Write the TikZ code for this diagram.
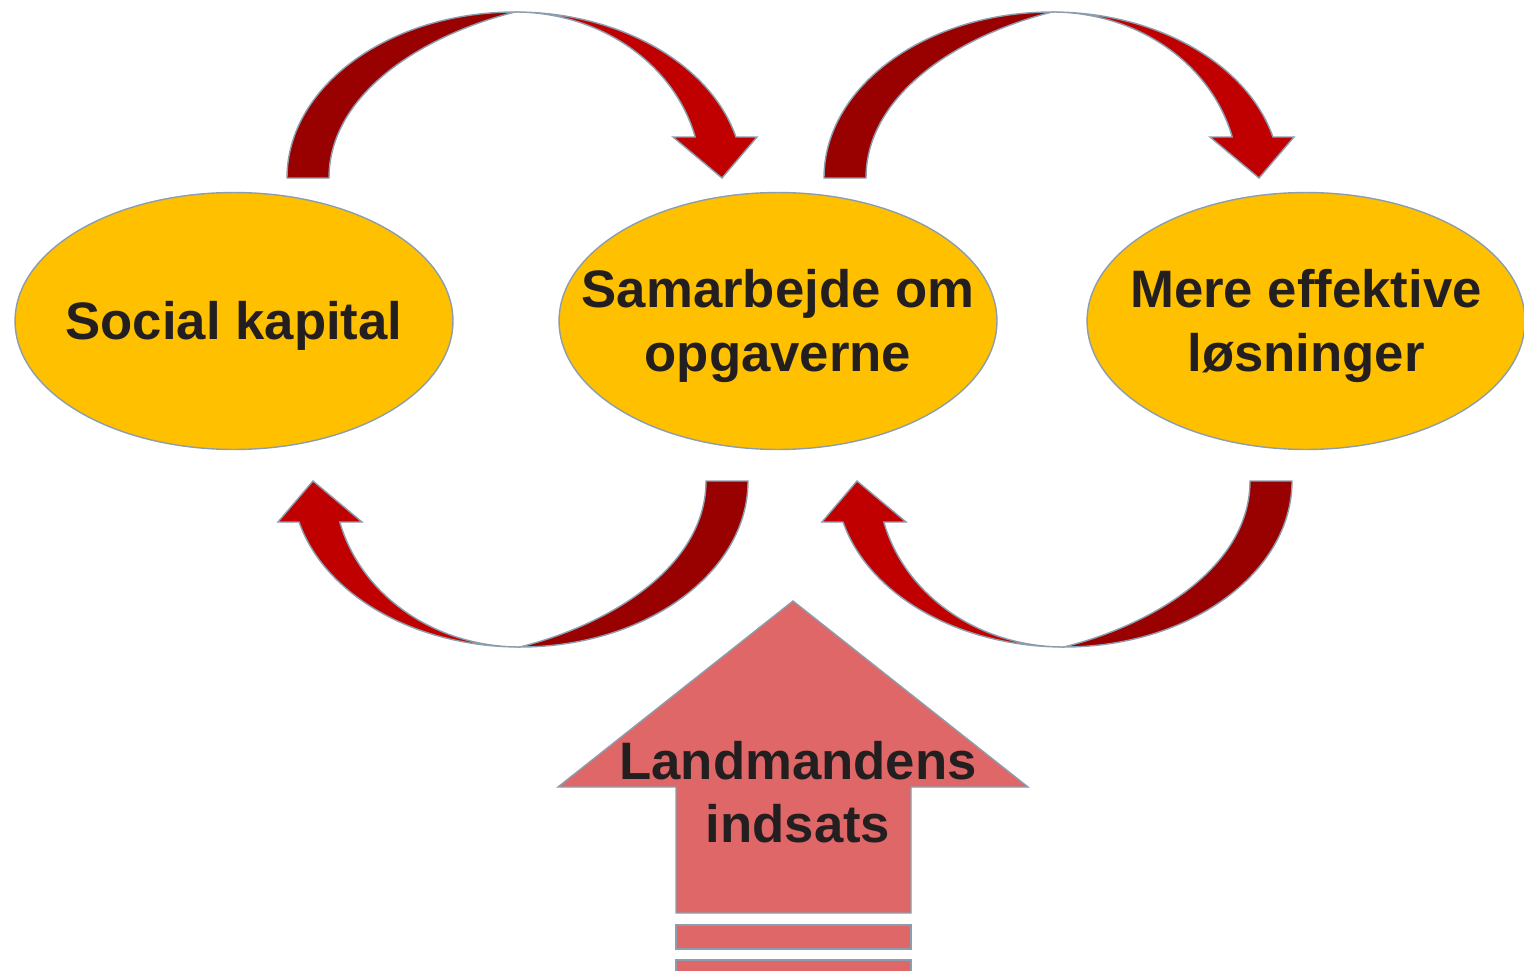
\documentclass[tikz,border=0pt]{standalone}
\usepackage{fontspec}
\setmainfont{Liberation Sans}
\usetikzlibrary{shapes.geometric}

\definecolor{bubblefill}{HTML}{FFC000}
\definecolor{edgegray}{HTML}{8C9DAE}
\definecolor{arcdark}{HTML}{990000}
\definecolor{arcred}{HTML}{C00000}
\definecolor{pushred}{HTML}{E06767}
\definecolor{textgray}{HTML}{231F20}

\begin{document}
\begin{tikzpicture}[x=0.02cm, y=0.02cm,
    bubble/.style={ellipse, draw=edgegray, line width=0.8pt, fill=bubblefill,
        minimum width=8.76cm, minimum height=5.14cm, inner sep=0pt},
    bubbletext/.style={text=textgray, align=center,
        font=\fontsize{30}{36}\selectfont\bfseries},
    arcpart/.style={draw=edgegray, line width=0.8pt},
    pushpart/.style={fill=pushred, draw=edgegray, line width=0.8pt}]

    % Fix the page to the size of the reference
    \useasboundingbox (0,0) rectangle (1524,-970);

    % Draw the three ellipses
    \node[bubble] (social) at (234,-321) {};
    \node[bubble] (samarb) at (778,-321) {};
    \node[bubble] (effekt) at (1306,-321) {};

    % Put the texts on the ellipses
    \node[bubbletext, yshift=-0.1cm] (socialtxt) at (social) {Social kapital};
    \node[bubbletext, yshift=-0.1cm] (samarbtxt) at (samarb) {Samarbejde om\\opgaverne};
    \node[bubbletext, yshift=-0.1cm] (effekttxt) at (effekt) {Mere effektive\\løsninger};

    % Draw the four bent arrows (tail half dark, head half red)
    % the two on top point right, the two below are turned round by 180
    \foreach \cx/\cy/\turn in {515/-178/0, 1052/-178/0, 520/-481/180, 1064/-481/180} {
        \begin{scope}[shift={(\cx,\cy)}, rotate=\turn]
            % tail: keeps its width until close to the top
            \path[arcpart, fill=arcdark] (-228,0)
                arc[start angle=180, end angle=90, x radius=228, y radius=166]
                .. controls (-95,142) and (-186,83) .. (-186,0) -- cycle;
            % head: grows from nothing at the top
            \path[arcpart, fill=arcred] (0,166)
                arc[start angle=90, end angle=14.3, x radius=228, y radius=166]
                -- (242,41) -- (207,0) -- (158,41) -- (180.2,41)
                arc[start angle=14.3, end angle=90, x radius=186, y radius=166] -- cycle;
        \end{scope}
    }

    % Draw the big arrow pointing up, with its two stripes
    \path[pushpart] (793,-601) -- (1028,-787) -- (911,-787) -- (911,-913)
        -- (676,-913) -- (676,-787) -- (558,-787) -- cycle;
    \path[pushpart] (676,-925) rectangle (911,-949);
    \path[pushpart] (676,-960) rectangle (911,-980);

    % Text on the big arrow
    \node[bubbletext] (pushtxt) at (798,-792) {Landmandens\\indsats};

\end{tikzpicture}
\end{document}
